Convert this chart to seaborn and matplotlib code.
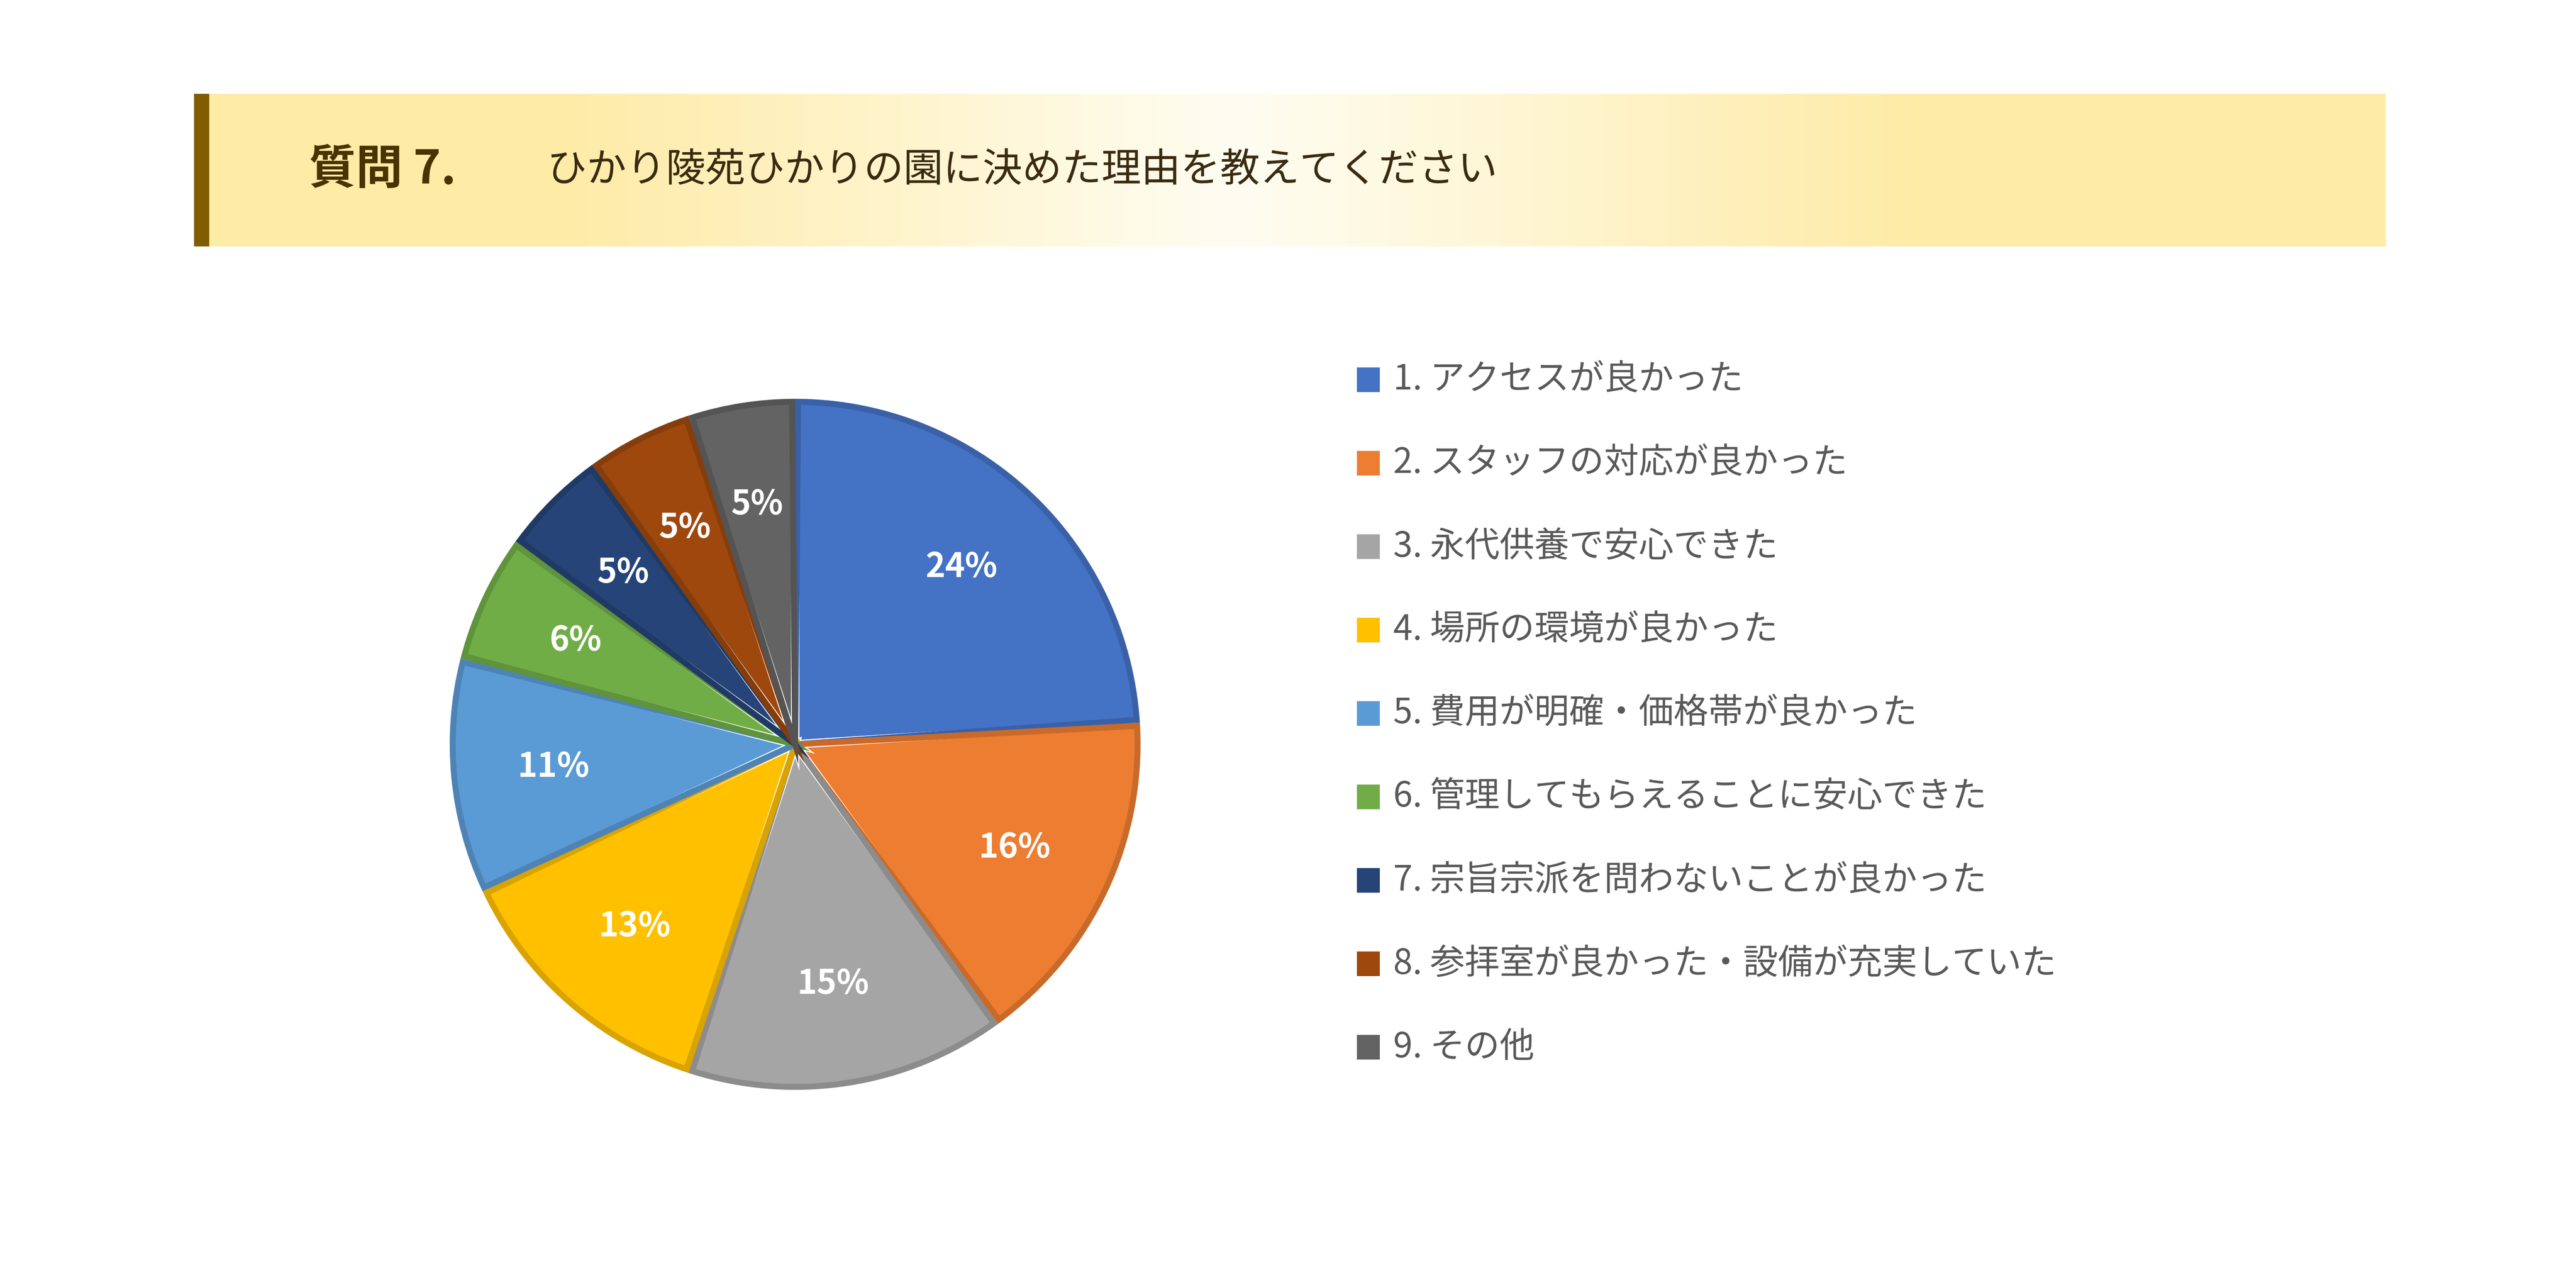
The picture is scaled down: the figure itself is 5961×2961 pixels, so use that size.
import numpy as np
import matplotlib
matplotlib.use("Agg")
import matplotlib.pyplot as plt
import matplotlib.colors as mcolors
import matplotlib.patches as mpatches
import seaborn as sns

sns.set_style("white")
plt.rcParams["font.family"] = "Noto Sans CJK JP"

# data
title_num = "質問 7."
title_text = "ひかり陵苑ひかりの園に決めた理由を教えてください"
labels = [
    "1. アクセスが良かった",
    "2. スタッフの対応が良かった",
    "3. 永代供養で安心できた",
    "4. 場所の環境が良かった",
    "5. 費用が明確・価格帯が良かった",
    "6. 管理してもらえることに安心できた",
    "7. 宗旨宗派を問わないことが良かった",
    "8. 参拝室が良かった・設備が充実していた",
    "9. その他",
]
values = [24, 16, 15, 13, 11, 6, 5, 5, 5]
colors = ["#4472C4", "#ED7D31", "#A5A5A5", "#FFC000", "#5B9BD5",
          "#70AD47", "#264478", "#9E480E", "#636363"]


def darker(c, f=0.85):
    r, g, b = mcolors.to_rgb(c)
    return (r * f, g * f, b * f)


W, H = 5961, 2961
fig = plt.figure(figsize=(W / 100, H / 100), dpi=100)
fig.patch.set_facecolor("white")

# title bar with gradient
bx0, bx1 = 118 / 1568, 1452 / 1568
by0, by1 = 1 - 150 / 779, 1 - 57 / 779
bar_ax = fig.add_axes([bx0, by0, bx1 - bx0, by1 - by0])
x = np.linspace(-1, 1, 600)
t = np.clip(np.abs(x + 0.05) * 1.6, 0, 1)
c_mid = np.array(mcolors.to_rgb("#fffdf2"))
c_edge = np.array(mcolors.to_rgb("#feeba6"))
grad = c_mid[None, :] * (1 - t[:, None]) + c_edge[None, :] * t[:, None]
bar_ax.imshow(grad[None, :, :], aspect="auto", extent=[0, 1, 0, 1])
bar_ax.axvspan(0, 9 / 1334, color="#7f5d00")
bar_ax.set_xlim(0, 1)
bar_ax.set_ylim(0, 1)
bar_ax.axis("off")
bar_ax.text(70 / 1334, 0.5, title_num, fontsize=78, fontweight="bold",
            color="#4a3300", va="center", ha="left")
bar_ax.text(215 / 1334, 0.5, title_text, fontsize=66,
            color="#3a2a10", va="center", ha="left")

# pie
cx, cy = 484 / 1568, 1 - 453 / 779
rw, rh = 272 / 1568, 272 / 779
ax = fig.add_axes([cx - rw, cy - rh, 2 * rw, 2 * rh])
wedges, _, autotexts = ax.pie(
    values, colors=colors, startangle=90, counterclock=False,
    autopct="%d%%", pctdistance=0.7, radius=0.97,
    wedgeprops=dict(linewidth=14, edgecolor="white"),
    textprops=dict(color="white", fontsize=56, fontweight="bold"),
)
# darker inner outline for each wedge
for w, c in zip(wedges, colors):
    inner = mpatches.Wedge(w.center, w.r - 0.012, w.theta1 + 0.5, w.theta2 - 0.5,
                           facecolor="none", edgecolor=darker(c), linewidth=10)
    ax.add_patch(inner)
for t_ in autotexts:
    t_.set_zorder(5)
ax.set_aspect("equal")

# legend
for i, (lab, c) in enumerate(zip(labels, colors)):
    yy = 1 - (231 + i * 50.8) / 779
    fig.patches.append(mpatches.Rectangle(
        (826 / 1568, yy - 7.5 / 779), 14 / 1568, 15 / 779,
        transform=fig.transFigure, facecolor=c, edgecolor="none"))
    fig.text(848 / 1568, yy, lab, fontsize=58, color="#595959",
             va="center", ha="left")

fig.savefig("out.png", dpi=100)
